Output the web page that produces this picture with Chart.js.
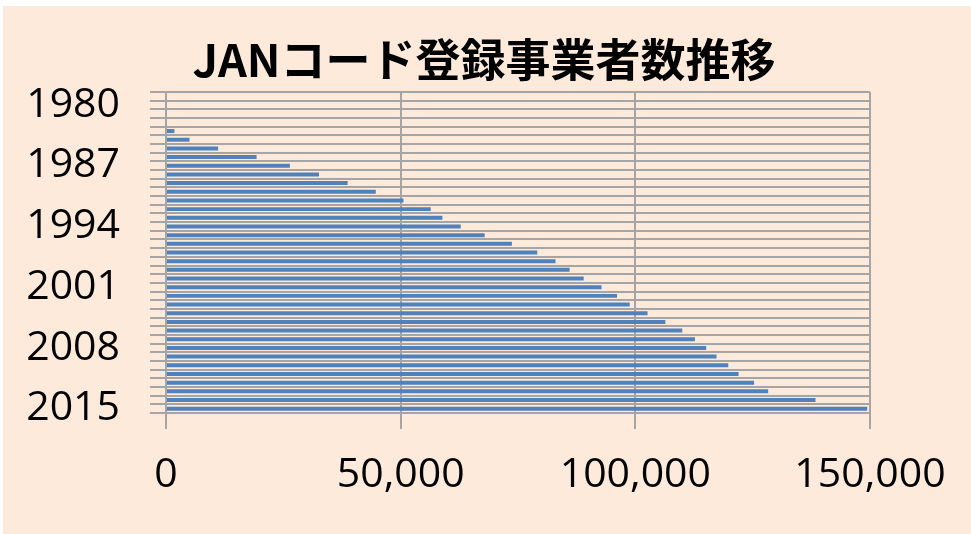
<!DOCTYPE html>
<html lang="ja">
<head>
  <meta charset="UTF-8">
  <title>JANコード登録事業者数推移</title>
  <script src="https://cdn.jsdelivr.net/npm/chart.js"></script>
  <style>
    html, body {
      margin: 0;
      padding: 0;
      background: #ffffff;
    }
    #wrap {
      position: relative;
      width: 971px;
      height: 534px;
    }
  </style>
</head>
<body>
  <div id="wrap">
    <canvas id="chart" width="971" height="534"></canvas>
  </div>

  <script>
    // 年（上から下へ）
    const years = [
      1979, 1980, 1981, 1982, 1983, 1984, 1985, 1986, 1987, 1988,
      1989, 1990, 1991, 1992, 1993, 1994, 1995, 1996, 1997, 1998,
      1999, 2000, 2001, 2002, 2003, 2004, 2005, 2006, 2007, 2008,
      2009, 2010, 2011, 2012, 2013, 2014, 2015
    ];
    // 登録事業者数
    const registrants = [
      null, null, null, null, 1800, 5000, 11100, 19300, 26400, 32600,
      38700, 44700, 50600, 56400, 58900, 62800, 67900, 73700, 79100, 83000,
      86000, 89000, 92800, 96100, 98800, 102600, 106400, 110000, 112700, 115100,
      117300, 119800, 122000, 125300, 128300, 138400, 149400
    ];
    // 表示する年ラベル
    const shownYears = [1980, 1987, 1994, 2001, 2008, 2015];
    const xTicks = [0, 50000, 100000, 150000];
    const titleText = 'JANコード登録事業者数推移';

    // 背景（左上に白い余白）
    const bgPlugin = {
      id: 'bg',
      beforeDraw(chart) {
        const ctx = chart.ctx;
        ctx.save();
        ctx.fillStyle = '#ffffff';
        ctx.fillRect(0, 0, chart.width, chart.height);
        ctx.fillStyle = '#fdeada';
        ctx.fillRect(3, 6, chart.width - 3, chart.height - 6);
        ctx.restore();
      }
    };

    // タイトルは右余白の影響を受けないよう全幅の中央に描く
    const titlePlugin = {
      id: 'centerTitle',
      afterDraw(chart) {
        const ctx = chart.ctx;
        ctx.save();
        ctx.fillStyle = '#000000';
        ctx.font = 'bold 45px "Noto Sans CJK JP", sans-serif';
        ctx.textAlign = 'center';
        ctx.textBaseline = 'middle';
        ctx.fillText(titleText, 484, 60);
        ctx.restore();
      }
    };

    const gridColor = '#a5a5a5';
    const tickFont = { family: '"Open Sans", "Liberation Sans", sans-serif', size: 41 };

    new Chart(document.getElementById('chart'), {
      type: 'bar',
      data: {
        labels: years.map(String),
        datasets: [{
          label: 'JANコード登録事業者数',
          data: registrants,
          backgroundColor: '#4f81bd',
          borderWidth: 0,
          barPercentage: 0.46,
          categoryPercentage: 1.0
        }]
      },
      options: {
        indexAxis: 'y',
        responsive: false,
        animation: false,
        layout: { padding: { top: 92, right: 101, bottom: 0, left: 0 } },
        plugins: {
          legend: { display: false },
          tooltip: { enabled: false },
          title: { display: false }
        },
        scales: {
          x: {
            min: 0,
            max: 150000,
            afterBuildTicks(scale) {
              scale.ticks = xTicks.map(v => ({ value: v }));
            },
            afterFit(scale) { scale.height = 121; },
            grid: { color: gridColor, lineWidth: 2, tickLength: 16 },
            border: { display: false },
            ticks: {
              color: '#000000',
              font: tickFont,
              padding: 22,
              maxRotation: 0,
              callback: v => v.toLocaleString('en-US')
            }
          },
          y: {
            afterFit(scale) { scale.width = 166; },
            grid: { color: gridColor, lineWidth: 2, tickLength: 16, offset: true },
            border: { display: false },
            ticks: {
              color: '#000000',
              font: tickFont,
              padding: 30,
              autoSkip: false,
              callback(value) {
                const y = years[value];
                return shownYears.includes(y) ? String(y) : '';
              }
            }
          }
        }
      },
      plugins: [bgPlugin, titlePlugin]
    });
  </script>
</body>
</html>
